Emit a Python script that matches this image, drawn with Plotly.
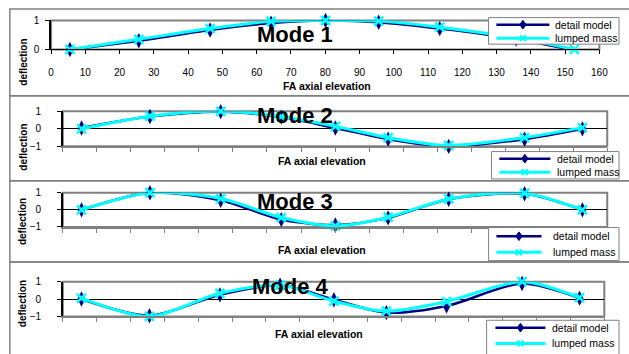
import plotly.graph_objects as go

# FA axial elevation of the measurement stations
elevation = [5.5, 25.6, 46.4, 64.2, 80.1, 95.6, 113.4, 135.7, 152.7]

# Normalised mode shapes: detail model vs lumped mass model
mode1_detail = [0.0, 0.30, 0.67, 0.91, 1.00, 0.94, 0.72, 0.36, -0.03]
mode1_lumped = [0.0, 0.35, 0.72, 0.97, 1.00, 0.98, 0.77, 0.40, 0.00]

mode2_detail = [0.05, 0.70, 0.98, 0.67, 0.05, -0.59, -1.00, -0.59, 0.00]
mode2_lumped = [0.00, 0.72, 1.00, 0.70, 0.14, -0.50, -0.95, -0.50, 0.07]

mode3_detail = [0.0, 1.00, 0.56, -0.57, -0.89, -0.47, 0.62, 0.94, 0.00]
mode3_lumped = [0.0, 1.00, 0.66, -0.45, -0.94, -0.43, 0.64, 0.97, 0.00]

mode4_detail = [0.00, -0.96, 0.24, 0.80, -0.04, -0.78, -0.40, 0.89, 0.05]
mode4_lumped = [0.05, -1.00, 0.33, 0.80, -0.12, -0.70, -0.15, 1.00, 0.08]

mode_titles = ["Mode 1", "Mode 2", "Mode 3", "Mode 4"]
series_names = ["detail model", "lumped mass"]
x_title = "FA axial elevation"
y_title = "deflection"
x_ticks = list(range(0, 170, 10))

W, H = 629, 354
FONT = "Arial, Liberation Sans, sans-serif"
NAVY = "#000080"
CYAN = "#00FFFF"
GRAY = "#808080"


def px(x):
    return x / W


def py(y):
    return 1 - y / H


# plot-area boxes in pixels (left, right, top, bottom) and y ranges
panels = [
    dict(l=49, r=608, t=15, b=45, yr=[0, 1], yt=[0, 1]),
    dict(l=61, r=616, t=109, b=145.3, yr=[-1, 1], yt=[-1, 0, 1]),
    dict(l=61, r=616, t=193.3, b=228.7, yr=[-1, 1], yt=[-1, 0, 1]),
    dict(l=61, r=613, t=285.3, b=321.3, yr=[-1, 1], yt=[-1, 0, 1]),
]
chart_bands = [(3, 93), (93, 181), (181, 265), (265, 400)]
mode_label_y = [29.5, 113.5, 202.5, 290]
mode_label_x = [257, 257, 257, 252]
ytitle_y = [58, 146, 223, 308]
xtitle_pos = [(283, 82.5), (278, 160), (278, 253), (275, 339)]

# legend boxes: left, top, bottom, row centres, key line span, text start
legends = [
    dict(l=495, t=12, b=39.5, rows=(19.3, 33.3), k0=503, k1=557, tx=561),
    dict(l=498, t=150.7, b=179, rows=(158, 172), k0=506, k1=558, tx=563),
    dict(l=495, t=229.3, b=263.5, rows=(238.3, 255), k0=503, k1=549, tx=559),
    dict(l=493, t=325.3, b=362, rows=(333, 349.3), k0=502, k1=553, tx=558),
]

detail = [mode1_detail, mode2_detail, mode3_detail, mode4_detail]
lumped = [mode1_lumped, mode2_lumped, mode3_lumped, mode4_lumped]

fig = go.Figure()
layout = dict(
    width=W, height=H, autosize=False,
    margin=dict(l=0, r=0, t=0, b=0),
    paper_bgcolor="white", plot_bgcolor="white",
    font=dict(family=FONT, color="black", size=10),
    showlegend=False,
    shapes=[], annotations=[],
)


def diamond_path(cx, cy, hw, hh):
    return (f"M {px(cx)},{py(cy - hh)} L {px(cx + hw)},{py(cy)} "
            f"L {px(cx)},{py(cy + hh)} L {px(cx - hw)},{py(cy)} Z")


def add_legend(lg):
    shp = layout["shapes"]
    shp.append(dict(
        type="rect", xref="paper", yref="paper", layer="above",
        x0=px(lg["l"]), x1=px(628), y0=py(lg["b"]), y1=py(lg["t"]),
        line=dict(color=GRAY, width=1), fillcolor="white",
    ))
    r1, r2 = lg["rows"]
    mid = (lg["k0"] + lg["k1"]) / 2
    # detail model key
    shp.append(dict(
        type="line", xref="paper", yref="paper", layer="above",
        x0=px(lg["k0"]), x1=px(lg["k1"]), y0=py(r1), y1=py(r1),
        line=dict(color=NAVY, width=2.5),
    ))
    shp.append(dict(
        type="path", xref="paper", yref="paper", layer="above",
        path=diamond_path(mid, r1, 3.2, 4.5),
        line=dict(color=NAVY, width=1), fillcolor=NAVY,
    ))
    # lumped mass key
    shp.append(dict(
        type="line", xref="paper", yref="paper", layer="above",
        x0=px(lg["k0"]), x1=px(lg["k1"]), y0=py(r2), y1=py(r2),
        line=dict(color=CYAN, width=3),
    ))
    for s in (1, -1):
        shp.append(dict(
            type="line", xref="paper", yref="paper", layer="above",
            x0=px(mid - 3), x1=px(mid + 3),
            y0=py(r2 - 3 * s), y1=py(r2 + 3 * s),
            line=dict(color=CYAN, width=2),
        ))
    for name, ry in zip(series_names, (r1, r2)):
        layout["annotations"].append(dict(
            text=name, xref="paper", yref="paper",
            x=px(lg["tx"]), y=py(ry), xanchor="left", yanchor="middle",
            showarrow=False, font=dict(size=10.5, family=FONT, color="black"),
        ))


for i, p in enumerate(panels):
    n = i + 1
    xa = "x" if n == 1 else f"x{n}"
    ya = "y" if n == 1 else f"y{n}"

    fig.add_trace(go.Scatter(
        x=elevation, y=detail[i], name=series_names[0],
        xaxis=xa, yaxis=ya, mode="lines+markers",
        line=dict(color=NAVY, width=2.5, shape="spline", smoothing=0.8),
        marker=dict(symbol="diamond-tall", size=11, color=NAVY),
        cliponaxis=False,
    ))
    fig.add_trace(go.Scatter(
        x=elevation, y=lumped[i], name=series_names[1],
        xaxis=xa, yaxis=ya, mode="lines+markers",
        line=dict(color=CYAN, width=3, shape="spline", smoothing=0.8),
        marker=dict(symbol="x-thin", size=9, color=CYAN,
                    line=dict(color=CYAN, width=2.5)),
        cliponaxis=False,
    ))

    first = n == 1
    layout["xaxis" if first else f"xaxis{n}"] = dict(
        domain=[px(p["l"]), px(p["r"])], anchor=ya,
        range=[0, 160], tickvals=x_ticks, showgrid=False, zeroline=False,
        ticks="outside", ticklen=4, tickwidth=1,
        tickcolor="black" if first else GRAY,
        showline=True, linecolor="black" if first else GRAY,
        linewidth=1 if first else 2,
        showticklabels=first, ticklabelstandoff=10 if first else 0,
        tickfont=dict(size=10, family=FONT),
    )
    layout["yaxis" if first else f"yaxis{n}"] = dict(
        domain=[py(p["b"]), py(p["t"])], anchor=xa,
        range=p["yr"], tickvals=p["yt"], showgrid=False,
        zeroline=not first, zerolinecolor="black", zerolinewidth=1,
        ticks="outside", ticklen=4, tickcolor="black",
        showline=True, linecolor="black", linewidth=1.5,
        ticklabelstandoff=4 if first else 14,
        tickfont=dict(size=10, family=FONT),
    )

    # plot-area frame
    layout["shapes"].append(dict(
        type="rect", xref="paper", yref="paper", layer="below",
        x0=px(p["l"]), x1=px(p["r"]), y0=py(p["b"]), y1=py(p["t"]),
        line=dict(color=GRAY, width=2), fillcolor="rgba(0,0,0,0)",
    ))
    # chart-area frame
    top, bot = chart_bands[i]
    layout["shapes"].append(dict(
        type="rect", xref="paper", yref="paper", layer="below",
        x0=px(7), x1=1.05, y0=py(bot), y1=py(top),
        line=dict(color=GRAY, width=1.5), fillcolor="rgba(0,0,0,0)",
    ))

    layout["annotations"].append(dict(
        text=f"<b>{mode_titles[i]}</b>", xref="paper", yref="paper",
        x=px(mode_label_x[i]), y=py(mode_label_y[i]),
        xanchor="left", yanchor="middle", showarrow=False,
        font=dict(size=22, family=FONT, color="black"),
    ))
    layout["annotations"].append(dict(
        text=f"<b>{y_title}</b>", xref="paper", yref="paper",
        x=px(20), y=py(ytitle_y[i]), textangle=-90,
        xanchor="center", yanchor="middle", showarrow=False,
        font=dict(size=10, family=FONT, color="black"),
    ))
    xt, yt = xtitle_pos[i]
    layout["annotations"].append(dict(
        text=f"<b>{x_title}</b>", xref="paper", yref="paper",
        x=px(xt), y=py(yt), xanchor="left", yanchor="middle",
        showarrow=False, font=dict(size=10.5, family=FONT, color="black"),
    ))

for lg in legends:
    add_legend(lg)

fig.update_layout(**layout)
fig.write_html("out.html")
